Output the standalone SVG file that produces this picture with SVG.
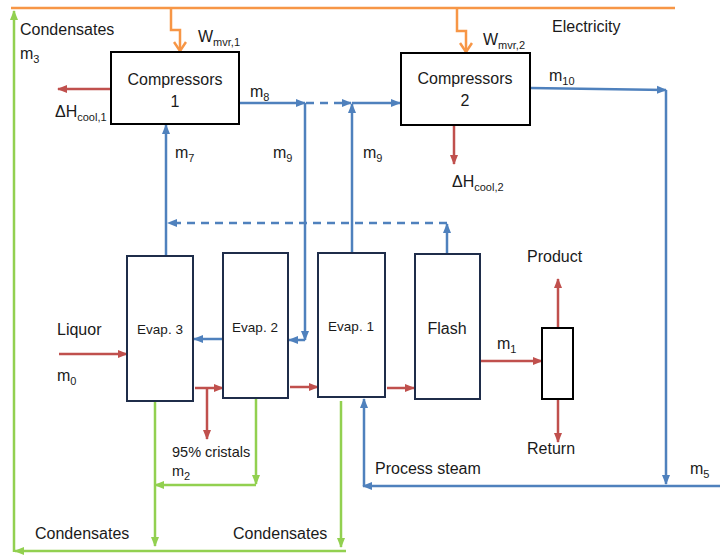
<svg xmlns="http://www.w3.org/2000/svg" width="720" height="555" viewBox="0 0 720 555">
<defs>
<style>
text{font-family:"Liberation Sans",Arial,sans-serif;fill:#1a1a1a;font-size:16px}
.sub{font-size:11px}
.ev{font-size:13.5px}
.c{stroke-width:2.5;fill:none}
.b{stroke:#4F81BD}
.r{stroke:#C0504D}
.g{stroke:#92D050}
.o{stroke:#F79646}
.d{stroke-dasharray:8 6}
.box{fill:#fff;stroke:#000;stroke-width:2}
.evb{fill:#fff;stroke:#1F2D4A;stroke-width:2}
</style>
<marker id="ab" markerUnits="userSpaceOnUse" markerWidth="10" markerHeight="10" refX="9" refY="5" orient="auto"><path d="M0,1 L10,5 L0,9 Z" fill="#4F81BD"/></marker>
<marker id="ar" markerUnits="userSpaceOnUse" markerWidth="10" markerHeight="10" refX="9" refY="5" orient="auto"><path d="M0,1 L10,5 L0,9 Z" fill="#C0504D"/></marker>
<marker id="ag" markerUnits="userSpaceOnUse" markerWidth="10" markerHeight="10" refX="9" refY="5" orient="auto"><path d="M0,1 L10,5 L0,9 Z" fill="#92D050"/></marker>
<marker id="ao" markerUnits="userSpaceOnUse" markerWidth="12" markerHeight="14" refX="10" refY="7" orient="auto"><path d="M1,1 L10,7 L1,13" fill="none" stroke="#F79646" stroke-width="2.5"/></marker>
</defs>
<rect width="720" height="555" fill="#fff"/>
<g id="connectors">
<path class="c o" d="M11,8 H675"/>
<path class="c o" d="M171,8 V30 H180 V51" marker-end="url(#ao)"/>
<path class="c o" d="M457,8 V31 H466 V52" marker-end="url(#ao)"/>
<path class="c g" d="M346,551 H15" marker-end="url(#ag)"/>
<path class="c g" d="M14,552 V11" marker-end="url(#ag)"/>
<path class="c g" d="M155,401 V546" marker-end="url(#ag)"/>
<path class="c g" d="M256,398 V484" marker-end="url(#ag)"/>
<path class="c g" d="M256,485 H155" marker-end="url(#ag)"/>
<path class="c g" d="M341,401 V547" marker-end="url(#ag)"/>
<path class="c b" d="M166,255 V125" marker-end="url(#ab)"/>
<path class="c b" d="M239,103 H305" marker-end="url(#ab)"/>
<path class="c b d" d="M306,103 H351" marker-end="url(#ab)"/>
<path class="c b" d="M352,103 H400" marker-end="url(#ab)"/>
<path class="c b" d="M305,103 V340" marker-end="url(#ab)"/>
<path class="c b" d="M305,340 H289" marker-end="url(#ab)"/>
<path class="c b" d="M352,252 V104" marker-end="url(#ab)"/>
<path class="c b" d="M223,339 H194" marker-end="url(#ab)"/>
<path class="c b d" d="M447,223 H168" marker-end="url(#ab)"/>
<path class="c b" d="M447,254 V224" marker-end="url(#ab)"/>
<path class="c b" d="M530,88 L666,90" marker-end="url(#ab)"/>
<path class="c b" d="M666,90 V484" marker-end="url(#ab)"/>
<path class="c b" d="M720,486 H363" marker-end="url(#ab)"/>
<path class="c b" d="M364,486 V399" marker-end="url(#ab)"/>
<path class="c r" d="M111,89 H58" marker-end="url(#ar)"/>
<path class="c r" d="M454,125 V164" marker-end="url(#ar)"/>
<path class="c r" d="M59,354 H127" marker-end="url(#ar)"/>
<path class="c r" d="M195,388 H223" marker-end="url(#ar)"/>
<path class="c r" d="M207,388 V439" marker-end="url(#ar)"/>
<path class="c r" d="M290,387 H318" marker-end="url(#ar)"/>
<path class="c r" d="M387,388 H414" marker-end="url(#ar)"/>
<path class="c r" d="M480,361 H542" marker-end="url(#ar)"/>
<path class="c r" d="M558,328 V279" marker-end="url(#ar)"/>
<path class="c r" d="M558,399 V442" marker-end="url(#ar)"/>
</g>
<g id="compressors1"><rect class="box" x="111" y="52" width="128" height="72"/><text x="175" y="85" text-anchor="middle">Compressors</text><text x="175" y="107" text-anchor="middle">1</text></g>
<g id="compressors2"><rect class="box" x="401" y="53" width="129" height="72"/><text x="465" y="84" text-anchor="middle">Compressors</text><text x="465" y="106" text-anchor="middle">2</text></g>
<g id="evap3"><rect class="evb" x="127" y="256" width="66" height="145"/><text class="ev" x="160" y="334" text-anchor="middle">Evap. 3</text></g>
<g id="evap2"><rect class="evb" x="223" y="253" width="65" height="145"/><text class="ev" x="255" y="332" text-anchor="middle">Evap. 2</text></g>
<g id="evap1"><rect class="evb" x="318" y="253" width="67" height="144"/><text class="ev" x="351" y="331" text-anchor="middle">Evap. 1</text></g>
<g id="flash"><rect class="evb" x="415" y="254" width="65" height="145"/><text x="447" y="334" text-anchor="middle">Flash</text></g>
<g id="splitter"><rect class="box" x="542" y="328" width="31" height="71"/></g>
<g id="labels">
<text x="552" y="32">Electricity</text>
<text x="198" y="42">W<tspan class="sub" dy="4">mvr,1</tspan></text>
<text x="483" y="45">W<tspan class="sub" dy="4">mvr,2</tspan></text>
<text x="20" y="35">Condensates</text>
<text x="20" y="59">m<tspan class="sub" dy="4">3</tspan></text>
<text x="55" y="117">ΔH<tspan class="sub" dy="4">cool,1</tspan></text>
<text x="452" y="187">ΔH<tspan class="sub" dy="4">cool,2</tspan></text>
<text x="250" y="97">m<tspan class="sub" dy="4">8</tspan></text>
<text x="549" y="81">m<tspan class="sub" dy="4">10</tspan></text>
<text x="175" y="158">m<tspan class="sub" dy="4">7</tspan></text>
<text x="273" y="158">m<tspan class="sub" dy="4">9</tspan></text>
<text x="363" y="158">m<tspan class="sub" dy="4">9</tspan></text>
<text x="57" y="335">Liquor</text>
<text x="57" y="381">m<tspan class="sub" dy="4">0</tspan></text>
<text x="172" y="457" style="font-size:14.5px">95% cristals</text>
<text x="172" y="476" style="font-size:14.5px">m<tspan class="sub" dy="4">2</tspan></text>
<text x="497" y="349">m<tspan class="sub" dy="4">1</tspan></text>
<text x="527" y="262">Product</text>
<text x="527" y="454">Return</text>
<text x="375" y="474">Process steam</text>
<text x="690" y="474">m<tspan class="sub" dy="4">5</tspan></text>
<text x="35" y="539">Condensates</text>
<text x="233" y="539">Condensates</text>
</g>
</svg>
